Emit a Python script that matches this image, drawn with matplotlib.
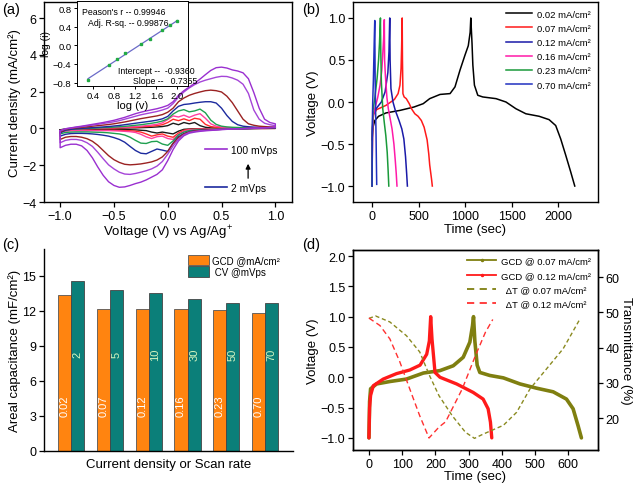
import numpy as np
import matplotlib
matplotlib.use("Agg")
import matplotlib.pyplot as plt
from matplotlib.lines import Line2D

plt.rcParams['font.family'] = ['Liberation Sans', 'DejaVu Sans']
plt.rcParams['mathtext.fontset'] = 'custom'
plt.rcParams['mathtext.rm'] = 'Liberation Sans'
plt.rcParams['mathtext.it'] = 'Liberation Sans:italic'
plt.rcParams['xtick.direction'] = 'out'
plt.rcParams['ytick.direction'] = 'out'
plt.rcParams['xtick.labelsize'] = 9
plt.rcParams['ytick.labelsize'] = 9
plt.rcParams['axes.linewidth'] = 1.0

# ---------------- (a) cyclic voltammetry ----------------
volt = [-1.00, -0.95, -0.90, -0.85, -0.80, -0.75, -0.70, -0.65, -0.60, -0.55,
        -0.50, -0.45, -0.40, -0.35, -0.30, -0.25, -0.20, -0.15, -0.10, -0.05,
        0.00, 0.05, 0.10, 0.15, 0.20, 0.25, 0.30, 0.35, 0.40, 0.45,
        0.50, 0.55, 0.60, 0.65, 0.70, 0.75, 0.80, 0.85, 0.90, 0.95,
        1.00]

cv_100_up = [-0.15, -0.02, 0.03, 0.08, 0.12, 0.17, 0.22, 0.27, 0.32, 0.38,
             0.44, 0.52, 0.60, 0.70, 0.80, 0.88, 0.95, 1.01, 1.07, 1.15,
             1.25, 1.45, 1.80, 2.05, 2.25, 2.45, 2.68, 2.92, 3.15, 3.30,
             3.33, 3.28, 3.18, 3.12, 3.02, 2.70, 1.95, 1.10, 0.50, 0.32,
             0.25]
cv_100_dn = [-1.05, -0.92, -0.86, -0.86, -0.95, -1.20, -1.60, -2.10, -2.55, -2.90,
             -3.10, -3.20, -3.18, -3.10, -3.00, -2.92, -2.80, -2.65, -2.50, -2.25,
             -1.75, -1.15, -0.68, -0.40, -0.26, -0.20, -0.16, -0.13, -0.11, -0.09,
             -0.07, -0.05, -0.03, -0.02, -0.01, 0.00, 0.02, 0.03, 0.04, 0.05,
             0.07]
cv_70_up = [-0.12, -0.02, 0.02, 0.06, 0.10, 0.14, 0.18, 0.22, 0.27, 0.31,
            0.36, 0.42, 0.50, 0.58, 0.66, 0.74, 0.80, 0.86, 0.92, 1.00,
            1.10, 1.35, 1.70, 1.98, 2.20, 2.38, 2.52, 2.62, 2.70, 2.78,
            2.83, 2.82, 2.74, 2.62, 2.40, 1.90, 1.00, 0.50, 0.28, 0.20,
            0.15]
cv_70_dn = [-0.78, -0.65, -0.60, -0.60, -0.65, -0.78, -0.98, -1.30, -1.65, -1.98,
            -2.20, -2.38, -2.48, -2.50, -2.45, -2.38, -2.30, -2.20, -2.05, -1.80,
            -1.40, -0.95, -0.58, -0.35, -0.22, -0.17, -0.13, -0.11, -0.09, -0.07,
            -0.05, -0.04, -0.03, -0.02, -0.01, 0.00, 0.01, 0.02, 0.03, 0.04,
            0.05]
cv_50_up = [-0.20, -0.05, 0.00, 0.03, 0.06, 0.09, 0.12, 0.15, 0.18, 0.21,
            0.25, 0.30, 0.35, 0.41, 0.47, 0.53, 0.58, 0.63, 0.68, 0.75,
            0.88, 1.10, 1.45, 1.65, 1.80, 1.90, 1.98, 2.05, 2.08, 2.05,
            1.98, 1.75, 1.40, 0.95, 0.50, 0.25, 0.17, 0.12, 0.10, 0.08,
            0.07]
cv_50_dn = [-0.60, -0.48, -0.44, -0.44, -0.48, -0.56, -0.70, -0.92, -1.20, -1.48,
            -1.70, -1.85, -1.95, -1.98, -1.96, -1.93, -1.88, -1.82, -1.72, -1.55,
            -1.25, -0.82, -0.50, -0.30, -0.20, -0.14, -0.11, -0.09, -0.07, -0.06,
            -0.05, -0.04, -0.03, -0.02, -0.01, 0.00, 0.01, 0.02, 0.02, 0.03,
            0.04]
cv_30_up = [-0.25, -0.10, -0.05, -0.02, 0.00, 0.02, 0.04, 0.06, 0.08, 0.10,
            0.13, 0.16, 0.20, 0.24, 0.28, 0.32, 0.36, 0.40, 0.45, 0.52,
            0.65, 0.95, 1.20, 1.30, 1.33, 1.38, 1.42, 1.45, 1.45, 1.38,
            1.10, 0.70, 0.38, 0.20, 0.12, 0.09, 0.07, 0.06, 0.05, 0.05,
            0.05]
cv_30_dn = [-0.42, -0.32, -0.28, -0.27, -0.27, -0.28, -0.30, -0.33, -0.37, -0.42,
            -0.50, -0.60, -0.75, -0.98, -1.20, -1.35, -1.38, -1.25, -1.12, -1.18,
            -1.25, -0.80, -0.45, -0.28, -0.18, -0.13, -0.10, -0.08, -0.07, -0.06,
            -0.05, -0.04, -0.03, -0.02, -0.02, -0.01, 0.00, 0.00, 0.01, 0.01,
            0.02]
cv_20_up = [-0.20, -0.08, -0.05, -0.03, -0.02, 0.00, 0.01, 0.02, 0.04, 0.05,
            0.07, 0.09, 0.11, 0.14, 0.17, 0.20, 0.24, 0.28, 0.33, 0.40,
            0.52, 0.78, 0.95, 1.02, 0.90, 0.95, 1.05, 0.85, 0.45, 0.22,
            0.12, 0.08, 0.06, 0.05, 0.04, 0.03, 0.03, 0.03, 0.03, 0.03,
            0.03]
cv_20_dn = [-0.30, -0.22, -0.20, -0.19, -0.19, -0.19, -0.20, -0.21, -0.22, -0.24,
            -0.27, -0.30, -0.36, -0.48, -0.65, -0.80, -0.82, -0.72, -0.70, -0.85,
            -0.92, -0.68, -0.35, -0.20, -0.12, -0.09, -0.07, -0.06, -0.05, -0.04,
            -0.04, -0.03, -0.03, -0.02, -0.02, -0.01, -0.01, 0.00, 0.00, 0.00,
            0.01]
cv_10_up = [-0.15, -0.06, -0.04, -0.03, -0.02, -0.01, 0.00, 0.01, 0.02, 0.03,
            0.04, 0.05, 0.06, 0.08, 0.10, 0.12, 0.15, 0.18, 0.22, 0.30,
            0.48, 0.68, 0.62, 0.72, 0.60, 0.72, 0.80, 0.55, 0.25, 0.12,
            0.07, 0.05, 0.04, 0.04, 0.04, 0.03, 0.03, 0.03, 0.03, 0.03,
            0.03]
cv_10_dn = [-0.20, -0.15, -0.13, -0.12, -0.12, -0.12, -0.12, -0.12, -0.12, -0.12,
            -0.13, -0.14, -0.16, -0.18, -0.22, -0.32, -0.46, -0.55, -0.45, -0.42,
            -0.55, -0.60, -0.32, -0.15, -0.08, -0.06, -0.05, -0.04, -0.04, -0.04,
            -0.03, -0.03, -0.03, -0.02, -0.02, -0.02, -0.01, -0.01, -0.01, 0.00,
            0.00]
cv_5_up = [-0.12, -0.05, -0.03, -0.02, -0.01, 0.00, 0.00, 0.01, 0.01, 0.02,
           0.02, 0.03, 0.04, 0.05, 0.06, 0.08, 0.10, 0.12, 0.15, 0.20,
           0.32, 0.50, 0.42, 0.52, 0.42, 0.55, 0.50, 0.22, 0.10, 0.06,
           0.04, 0.04, 0.03, 0.03, 0.03, 0.03, 0.02, 0.02, 0.02, 0.02,
           0.02]
cv_5_dn = [-0.18, -0.12, -0.10, -0.10, -0.10, -0.10, -0.10, -0.10, -0.10, -0.10,
           -0.10, -0.11, -0.12, -0.13, -0.15, -0.20, -0.30, -0.42, -0.35, -0.30,
           -0.42, -0.48, -0.25, -0.10, -0.05, -0.04, -0.03, -0.03, -0.03, -0.02,
           -0.02, -0.02, -0.02, -0.01, -0.01, -0.01, -0.01, 0.00, 0.00, 0.00,
           0.00]
cv_2_up = [-0.08, -0.02, -0.01, 0.00, 0.00, 0.00, 0.01, 0.01, 0.01, 0.01,
           0.02, 0.02, 0.02, 0.03, 0.03, 0.04, 0.05, 0.06, 0.08, 0.10,
           0.15, 0.28, 0.20, 0.32, 0.25, 0.32, 0.15, 0.06, 0.03, 0.02,
           0.02, 0.02, 0.02, 0.02, 0.02, 0.02, 0.02, 0.02, 0.02, 0.02,
           0.02]
cv_2_dn = [-0.12, -0.08, -0.07, -0.06, -0.06, -0.06, -0.06, -0.06, -0.06, -0.06,
           -0.06, -0.06, -0.07, -0.07, -0.08, -0.10, -0.12, -0.20, -0.25, -0.20,
           -0.25, -0.30, -0.15, -0.05, -0.03, -0.02, -0.02, -0.02, -0.02, -0.02,
           -0.01, -0.01, -0.01, -0.01, -0.01, -0.01, 0.00, 0.00, 0.00, 0.00,
           0.00]

cv_curves = [
    (cv_2_up, cv_2_dn, '#1a1a1a'),
    (cv_5_up, cv_5_dn, '#ff2a2a'),
    (cv_10_up, cv_10_dn, '#ff3fa0'),
    (cv_20_up, cv_20_dn, '#20a050'),
    (cv_30_up, cv_30_dn, '#1c2a9e'),
    (cv_50_up, cv_50_dn, '#9a2222'),
    (cv_70_up, cv_70_dn, '#a545d8'),
    (cv_100_up, cv_100_dn, '#9a2fd0'),
]

# inset: log(i) vs log(v)
log_v = [0.30, 0.70, 0.85, 1.00, 1.30, 1.48, 1.70, 1.85, 2.00]
log_i = [-0.74, -0.43, -0.30, -0.17, 0.02, 0.14, 0.32, 0.44, 0.53]
fit_intercept = -0.9360
fit_slope = 0.7355

# ---------------- (b) GCD at different current densities ----------------
gcd_labels = ['0.02 mA/cm²', '0.07 mA/cm²', '0.12 mA/cm²',
              '0.16 mA/cm²', '0.23 mA/cm²', '0.70 mA/cm²']
gcd_colors = ['#000000', '#ff1a1a', '#1a1aa8', '#ff1aa8', '#1a9a3a', '#2030c0']

t_002 = [0, 10, 30, 70, 150, 300, 450, 550, 620, 731, 839, 892, 946, 1000, 1035, 1055, 1062,
         1075, 1084, 1101, 1137, 1191, 1333, 1440, 1547, 1654, 1797, 1904, 1975, 2029, 2082, 2136, 2180]
v_002 = [-0.45, -0.30, -0.22, -0.17, -0.13, -0.10, -0.06, -0.02, 0.04, 0.09, 0.10, 0.18, 0.38, 0.56, 0.67, 0.83, 1.00,
         0.70, 0.44, 0.20, 0.08, 0.06, 0.04, 0.00, -0.08, -0.14, -0.17, -0.21, -0.28, -0.44, -0.63, -0.83, -1.00]
t_007 = [0, 5, 15, 50, 150, 240, 280, 300, 312, 318, 324,
         327, 332, 345, 368, 400, 424, 460, 495, 530, 560, 592, 610, 620, 640, 648]
v_007 = [-1.00, -0.30, -0.15, -0.09, -0.04, 0.03, 0.10, 0.20, 0.40, 0.65, 1.00,
         0.50, 0.10, 0.06, 0.04, -0.02, -0.08, -0.14, -0.17, -0.22, -0.30, -0.45, -0.62, -0.75, -0.92, -1.00]
t_012 = [0, 4, 15, 50, 100, 140, 170, 182, 190,
         194, 203, 225, 250, 290, 320, 342, 360, 372, 380]
v_012 = [-1.00, -0.35, -0.13, -0.07, 0.00, 0.12, 0.35, 0.60, 1.00,
         0.50, 0.16, 0.00, -0.10, -0.22, -0.32, -0.44, -0.65, -0.85, -1.00]
t_016 = [0, 4, 15, 30, 60, 86, 105, 114, 124, 132,
         135, 143, 160, 175, 195, 215, 235, 250, 260, 268]
v_016 = [-1.00, -0.35, -0.15, -0.08, 0.05, 0.20, 0.38, 0.55, 0.75, 0.98,
         0.50, 0.32, 0.05, -0.08, -0.20, -0.32, -0.50, -0.70, -0.85, -1.00]
t_023 = [0, 3, 10, 30, 54, 70, 80, 90,
         94, 100, 115, 132, 148, 163, 173, 180]
v_023 = [-1.00, -0.35, -0.10, 0.05, 0.28, 0.50, 0.70, 1.00,
         0.60, 0.24, -0.08, -0.25, -0.40, -0.60, -0.82, -1.00]
t_070 = [0, 2, 7, 14, 20, 25, 29,
         33, 38, 43, 47, 50]
v_070 = [-1.00, -0.30, 0.00, 0.25, 0.55, 0.80, 0.97,
         0.30, -0.10, -0.40, -0.75, -0.98]

# ---------------- (c) areal capacitance ----------------
gcd_current = ['0.02', '0.07', '0.12', '0.16', '0.23', '0.70']
cv_rate = ['2', '5', '10', '30', '50', '70']
cap_gcd = [13.4, 12.2, 12.15, 12.15, 12.1, 11.85]
cap_cv = [14.6, 13.8, 13.5, 13.0, 12.7, 12.65]

# ---------------- (d) GCD with transmittance ----------------
d_t_007 = [0, 2, 5, 23, 63, 113, 164, 214, 254, 284, 304, 312, 315,
           319, 326, 334, 364, 405, 455, 505, 555, 595, 615, 630, 640]
d_v_007 = [-1.00, -0.40, -0.19, -0.11, -0.07, -0.03, 0.07, 0.11, 0.19, 0.33, 0.58, 0.85, 1.00,
           0.60, 0.20, 0.08, 0.03, -0.01, -0.11, -0.18, -0.24, -0.36, -0.52, -0.80, -1.00]
d_t_012 = [0, 2, 5, 13, 43, 83, 123, 154, 174, 182, 186,
           190, 199, 214, 264, 314, 344, 359, 366, 370]
d_v_012 = [-1.00, -0.50, -0.30, -0.14, -0.03, 0.06, 0.12, 0.20, 0.38, 0.60, 1.00,
           0.63, 0.08, 0.00, -0.11, -0.25, -0.36, -0.52, -0.74, -1.00]
dT_t_007 = [0, 20, 63, 113, 153, 183, 211, 251, 291, 318, 344, 405, 445, 485, 535, 585, 636]
dT_007 = [48.3, 49.0, 47.3, 43.4, 38.8, 32.0, 26.4, 20.7, 16.0, 14.3, 15.5, 18.0, 21.7, 28.3, 34.0, 39.7, 48.2]
dT_t_012 = [0, 33, 63, 93, 123, 153, 181, 211, 231, 281, 321, 351, 373]
dT_012 = [48.4, 46.3, 42.5, 36.0, 28.3, 20.7, 14.4, 17.5, 19.0, 28.3, 37.8, 44.4, 48.0]

W, H = 635, 485
fig = plt.figure(figsize=(W / 100, H / 100), dpi=100)


def rect(left, right, top, bottom):
    return [left / W, 1 - bottom / H, (right - left) / W, (bottom - top) / H]


def style(ax):
    ax.tick_params(top=False, right=False, length=3.5, width=0.9, pad=2)


# (a)
ax_a = fig.add_axes(rect(44, 292, 3, 203))
for up, dn, c in cv_curves:
    x = volt + volt[::-1] + [volt[0]]
    y = up + dn[::-1] + [up[0]]
    ax_a.plot(x, y, color=c, lw=1.0)
ax_a.set_xlim(-1.15, 1.155)
ax_a.set_ylim(-4, 6.87)
ax_a.set_xticks([-1.0, -0.5, 0.0, 0.5, 1.0])
ax_a.set_yticks([-4, -2, 0, 2, 4, 6])
style(ax_a)
ax_a.set_xlabel('Voltage (V) vs Ag/Ag$^{+}$', fontsize=9.5, labelpad=1)
ax_a.set_ylabel('Current density (mA/cm²)', fontsize=9.5, labelpad=1)
ax_a.legend([Line2D([], [], color='#9a2fd0', lw=1.2), Line2D([], [], color='#1c2a9e', lw=1.2)],
            ['100 mVps', '2 mVps'], loc='lower left', bbox_to_anchor=(0.61, 0.0),
            frameon=False, fontsize=7.4, handlelength=2.2, labelspacing=2.7, handletextpad=0.4)
ax_a.annotate('', xy=(0.823, 0.205), xytext=(0.823, 0.105), xycoords='axes fraction',
              arrowprops=dict(arrowstyle='-|>', color='black', lw=0.9, mutation_scale=7))

ins = fig.add_axes(rect(76.5, 188, 1.7, 87.3))
ins.plot(log_v, log_i, 's', color='#22aa44', ms=2.1, zorder=3)
fit_x = np.array([log_v[0], log_v[-1]])
ins.plot(fit_x, fit_intercept + fit_slope * fit_x, color='#6a6ac8', lw=0.9)
ins.set_xlim(0.08, 2.2)
ins.set_ylim(-0.88, 0.96)
ins.set_xticks([0.4, 0.8, 1.2, 1.6, 2.0])
ins.set_yticks([-0.8, -0.4, 0.0, 0.4, 0.8])
ins.tick_params(labelsize=6.8, length=2.5, width=0.7, pad=1.2)
ins.set_xlabel('log (v)', fontsize=8, labelpad=0)
ins.set_ylabel('log (i)', fontsize=7.5, labelpad=1.5)
for s in ins.spines.values():
    s.set_linewidth(0.7)
ins.text(0.05, 0.93, "Peason's r -- 0.99946", transform=ins.transAxes, fontsize=6.3, va='top')
ins.text(0.10, 0.80, "Adj. R-sq. -- 0.99876", transform=ins.transAxes, fontsize=6.3, va='top')
ins.text(0.37, 0.24, "Intercept --  -0.9360", transform=ins.transAxes, fontsize=6.3, va='top')
ins.text(0.51, 0.12, "Slope --   0.7355", transform=ins.transAxes, fontsize=6.3, va='top')

# (b)
ax_b = fig.add_axes(rect(353, 598, 3, 203))
gcd_t = [t_002, t_007, t_012, t_016, t_023, t_070]
gcd_v = [v_002, v_007, v_012, v_016, v_023, v_070]
for t, v, c, lab in zip(gcd_t, gcd_v, gcd_colors, gcd_labels):
    ax_b.plot(t, v, color=c, lw=1.1, label=lab)
ax_b.set_xlim(-205, 2430)
ax_b.set_ylim(-1.19, 1.19)
ax_b.set_xticks([0, 500, 1000, 1500, 2000])
ax_b.set_yticks([-1.0, -0.5, 0.0, 0.5, 1.0])
style(ax_b)
ax_b.set_xlabel('Time (sec)', fontsize=9.5, labelpad=1)
ax_b.set_ylabel('Voltage (V)', fontsize=9.5, labelpad=1)
ax_b.legend(loc='upper right', bbox_to_anchor=(1.0, 1.0), frameon=False, fontsize=6.8,
            handlelength=2.8, labelspacing=0.55, handletextpad=0.5, borderaxespad=0.4)

# (c)
ax_c = fig.add_axes(rect(44, 293, 250, 452))
xs = np.arange(len(cap_gcd))
bw = 0.34
ax_c.bar(xs - bw / 2, cap_gcd, width=bw, color='#ff8410', edgecolor='#555555', lw=0.6,
         label='GCD @mA/cm²')
ax_c.bar(xs + bw / 2, cap_cv, width=bw, color='#0b7f79', edgecolor='#444444', lw=0.6,
         label=' CV @mVps')
for x, g, r in zip(xs, gcd_current, cv_rate):
    ax_c.text(x - bw / 2, 3.95, g, rotation=90, ha='center', va='center', color='white', fontsize=8)
    ax_c.text(x + bw / 2, 8.3, r, rotation=90, ha='center', va='center', color='#d5f5c0', fontsize=8)
ax_c.set_xlim(-0.70, 5.72)
ax_c.set_ylim(0, 17.3)
ax_c.set_yticks([0, 3, 6, 9, 12, 15])
ax_c.set_xticks([])
ax_c.spines['top'].set_visible(False)
ax_c.spines['right'].set_visible(False)
style(ax_c)
ax_c.set_xlabel('Current density or Scan rate', fontsize=9.5, labelpad=5)
ax_c.set_ylabel('Areal capacitance (mF/cm²)', fontsize=9.5, labelpad=1)
ax_c.legend(loc='upper right', bbox_to_anchor=(0.97, 1.0), frameon=False, fontsize=7,
            handlelength=2.2, handleheight=1.3, labelspacing=0.1, handletextpad=0.3,
            borderaxespad=0.2)

# (d)
ax_d = fig.add_axes(rect(353, 598, 251, 451))
olive = '#7f7f10'
ax_d.plot(d_t_007, d_v_007, color=olive, lw=2.6, solid_capstyle='round')
ax_d.plot(d_t_012, d_v_012, color='#ff1a1a', lw=2.4, solid_capstyle='round')
ax_d.set_xlim(-48, 690)
ax_d.set_ylim(-1.2, 2.1)
ax_d.set_xticks([0, 100, 200, 300, 400, 500, 600])
ax_d.set_yticks([-1.0, -0.5, 0.0, 0.5, 1.0, 1.5, 2.0])
style(ax_d)
ax_d.set_xlabel('Time (sec)', fontsize=9.5, labelpad=0)
ax_d.set_ylabel('Voltage (V)', fontsize=9.5, labelpad=1)
ax_t = ax_d.twinx()
ax_t.plot(dT_t_007, dT_007, color='#8a8a20', lw=1.0, ls=(0, (3, 2)))
ax_t.plot(dT_t_012, dT_012, color='#ff3030', lw=1.0, ls=(0, (4, 2.5)))
ax_t.set_ylim(11.0, 67.7)
ax_t.set_yticks([20, 30, 40, 50, 60])
ax_t.tick_params(length=3.5, width=0.9, pad=2)
ax_t.set_ylabel('Transmittance (%)', fontsize=9.5, rotation=270, labelpad=9)
h1 = Line2D([], [], color=olive, lw=1.3, marker='.', ms=3)
h2 = Line2D([], [], color='#ff1a1a', lw=1.3, marker='.', ms=3)
h3 = Line2D([], [], color=olive, lw=1.3, ls=(0, (4, 3)))
h4 = Line2D([], [], color='#ff3030', lw=1.3, ls=(0, (4, 3)))
ax_t.legend([h1, h2, h3, h4],
            ['GCD @ 0.07 mA/cm²', 'GCD @ 0.12 mA/cm²', '  ΔT @ 0.07 mA/cm²', '  ΔT @ 0.12 mA/cm²'],
            loc='upper right', bbox_to_anchor=(1.0, 1.0), frameon=False, fontsize=6.8,
            handlelength=3.0, labelspacing=0.55, handletextpad=0.6, borderaxespad=0.3)

for lab, x, y in [('(a)', 2, 3), ('(b)', 302, 3), ('(c)', 2, 238), ('(d)', 302, 238)]:
    fig.text(x / W, 1 - y / H, lab, fontsize=10.5, va='top', ha='left')

fig.savefig('out.png', dpi=100)
